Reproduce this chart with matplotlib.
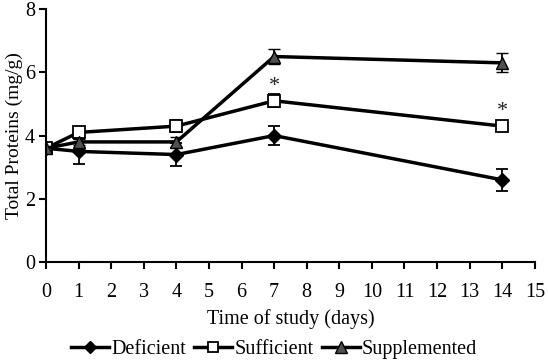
import matplotlib
matplotlib.use("Agg")
import matplotlib.pyplot as plt

plt.rcParams['font.family'] = ['Liberation Serif', 'DejaVu Serif']

days = [0, 1, 4, 7, 14]
deficient = [3.6, 3.5, 3.4, 4.0, 2.6]
deficient_err = [0.1, 0.4, 0.35, 0.3, 0.35]
sufficient = [3.6, 4.1, 4.3, 5.1, 4.3]
sufficient_err = [0.1, 0.1, 0.2, 0.2, 0.12]
supplemented = [3.6, 3.8, 3.8, 6.5, 6.3]
supplemented_err = [0.1, 0.1, 0.15, 0.25, 0.3]
star_days = [7, 14]
star_y = [5.55, 4.75]

fig = plt.figure(figsize=(5.48, 3.64), dpi=100)
ax = fig.add_axes([0.084, 0.28, 0.892, 0.695])

common = dict(color='black', lw=2.5, capsize=4, elinewidth=1.3, capthick=1.3)
c1 = ax.errorbar(days, deficient, yerr=deficient_err, marker='D', ms=7,
                 mfc='black', mec='black', label='Deficient', **common)
c2 = ax.errorbar(days, sufficient, yerr=sufficient_err, marker='s', ms=8,
                 mfc='white', mec='black', mew=1.3, label='Sufficient', **common)
c3 = ax.errorbar(days, supplemented, yerr=supplemented_err, marker='^', ms=9,
                 mfc='#505050', mec='black', mew=1, label='Supplemented', **common)

for d, y in zip(star_days, star_y):
    ax.text(d, y, '*', ha='center', va='center', fontsize=16, color='#222222')

ax.set_xlim(0, 15)
ax.set_ylim(0, 8)
ax.set_xticks(range(16))
ax.set_yticks([0, 2, 4, 6, 8])
ax.spines['top'].set_visible(False)
ax.spines['right'].set_visible(False)
ax.spines['left'].set_linewidth(1.5)
ax.spines['bottom'].set_linewidth(1.5)
ax.tick_params(direction='out', width=1.5, length=5, labelsize=14.5)
ax.tick_params(axis='x', pad=10)
ax.tick_params(axis='y', pad=3)
ax.set_xlabel('Time of study (days)', fontsize=14.5)
ax.set_ylabel('Total Proteins (mg/g)', fontsize=14)
ax.xaxis.set_label_coords(0.5, -0.185)
ax.yaxis.set_label_coords(-0.048, 0.5)

handles = [c1[0], c2[0], c3[0]]
fig.legend(handles, ['Deficient', 'Sufficient', 'Supplemented'],
           loc='center', bbox_to_anchor=(0.5, 0.04), ncol=3, frameon=False,
           fontsize=14.5, handlelength=1.9, handletextpad=0.1, columnspacing=0.4,
           markerscale=0.9)

fig.savefig('out.png', dpi=100)
